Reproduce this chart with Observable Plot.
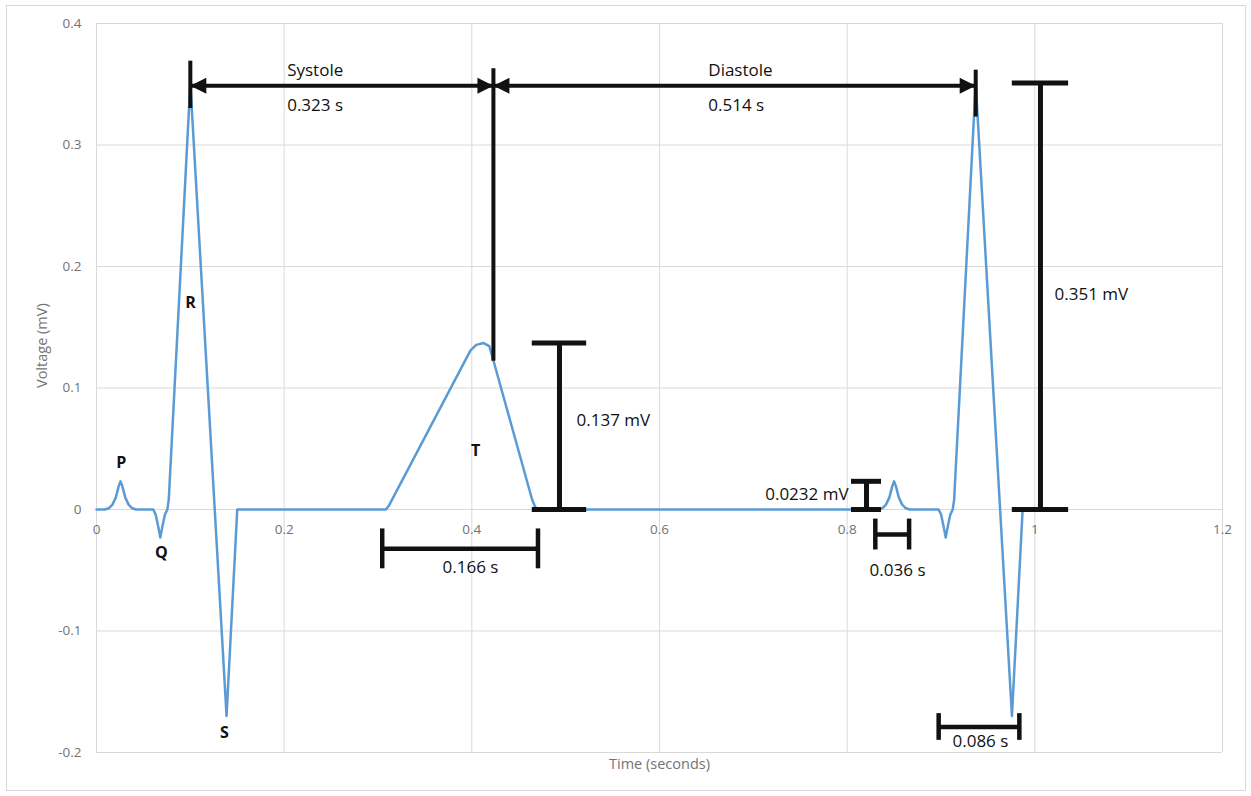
<!DOCTYPE html>
<html>
<head>
<meta charset="utf-8">
<script src="https://cdn.jsdelivr.net/npm/d3@7"></script>
<script src="https://cdn.jsdelivr.net/npm/@observablehq/plot@0.6"></script>
<style>
  body { margin: 0; background: #fff; font-family: "Open Sans", sans-serif; }
  #chart { position: relative; width: 1251px; height: 796px; }
  #chart svg { display: block; }
  #chart .border { position: absolute; left: 6px; top: 5px; width: 1238px; height: 784px;
                   border: 1px solid #d9d9d9; pointer-events: none; }
</style>
</head>
<body>
<div id="chart"><div class="border"></div></div>
<script>
// ECG trace: two heartbeats, time in seconds, voltage in mV
const time = [
  0, 0.009, 0.013, 0.017, 0.0206, 0.0236, 0.0256, 0.0276, 0.0306, 0.0342, 0.0382, 0.0422,
  0.0605, 0.063, 0.0655, 0.068, 0.0705, 0.073, 0.0755, 0.077, 0.100, 0.1386, 0.150,
  0.3085, 0.3115, 0.3986, 0.4046, 0.4126, 0.4186, 0.4236, 0.4643, 0.4675, 0.4705,
  0.8334, 0.8374, 0.8414, 0.845, 0.848, 0.850, 0.852, 0.855, 0.8586, 0.8626, 0.8666,
  0.8975, 0.900, 0.9025, 0.905, 0.9075, 0.910, 0.9125, 0.914, 0.937, 0.9756, 0.987, 0.995
];
const voltage = [
  0, 0, 0.001, 0.004, 0.010, 0.019, 0.0232, 0.019, 0.010, 0.004, 0.001, 0,
  0, -0.004, -0.013, -0.023, -0.013, -0.004, 0, 0.008, 0.351, -0.170, 0,
  0, 0.003, 0.131, 0.1355, 0.137, 0.1345, 0.121, 0.008, 0.002, 0,
  0, 0.001, 0.004, 0.010, 0.019, 0.0232, 0.019, 0.010, 0.004, 0.001, 0,
  0, -0.004, -0.013, -0.023, -0.013, -0.004, 0, 0.008, 0.351, -0.170, 0, 0
];

// Axis ticks
const xTicks = [0, 0.2, 0.4, 0.6, 0.8, 1.0, 1.2];
const xTickLabels = ["0", "0.2", "0.4", "0.6", "0.8", "1", "1.2"];
const yTicks = [0.4, 0.3, 0.2, 0.1, 0, -0.1, -0.2];
const yTickLabels = ["0.4", "0.3", "0.2", "0.1", "0", "-0.1", "-0.2"];

// Wave names
const waves = [
  {name: "P", t: 0.0263, v: 0.0387},
  {name: "Q", t: 0.069, v: -0.036},
  {name: "R", t: 0.1002, v: 0.170},
  {name: "S", t: 0.1364, v: -0.184},
  {name: "T", t: 0.404, v: 0.0485}
];

// Systole / diastole intervals (R peak to end of T, then to next R peak)
const phases = [
  {name: "Systole", label: "0.323 s", start: 0.100, length: 0.323, lx: 0.2032},
  {name: "Diastole", label: "0.514 s", start: 0.423, length: 0.514, lx: 0.652}
];
const phaseArrowV = 0.3487;
// Vertical markers bounding the intervals
const markers = [
  {t: 0.100, v1: 0.330, v2: 0.369},
  {t: 0.423, v1: 0.122, v2: 0.3627},
  {t: 0.937, v1: 0.323, v2: 0.3616}
];

// Amplitude measurements (label placed right of the bar, or left when side is "left")
const amplitudes = [
  {label: "0.137 mV", t: 0.4934, value: 0.137, half: 0.029, lx: 0.5116, ly: 0.0732, side: "right"},
  {label: "0.0232 mV", t: 0.8206, value: 0.0232, half: 0.016, lx: 0.8015, ly: 0.0123, side: "left"},
  {label: "0.351 mV", t: 1.006, value: 0.351, half: 0.030, lx: 1.021, ly: 0.1768, side: "right"}
];

// Duration measurements
const durations = [
  {label: "0.166 s", start: 0.3045, length: 0.166, v: -0.0324, half: 0.0164, lx: 0.3986, ly: -0.0474},
  {label: "0.036 s", start: 0.830, length: 0.036, v: -0.0206, half: 0.0127, lx: 0.8537, ly: -0.0502},
  {label: "0.086 s", start: 0.8975, length: 0.086, v: -0.179, half: 0.011, lx: 0.942, ly: -0.191}
];

const ecg = time.map((t, i) => ({t, v: voltage[i]}));
const xTickRows = xTicks.map((x, i) => ({x, label: xTickLabels[i]}));
const yTickRows = yTicks.map((y, i) => ({y, label: yTickLabels[i]}));

// Filled arrowheads whose tip sits on the anchor point
const headRight = {draw(ctx, size) { const r = Math.sqrt(size / Math.PI);
  ctx.moveTo(0, 0); ctx.lineTo(-2 * r, -r); ctx.lineTo(-2 * r, r); ctx.closePath(); }};
const headLeft = {draw(ctx, size) { const r = Math.sqrt(size / Math.PI);
  ctx.moveTo(0, 0); ctx.lineTo(2 * r, -r); ctx.lineTo(2 * r, r); ctx.closePath(); }};

const grid = "#d9d9d9";
const ink = "#111";
const tickInk = "#737373";

const chart = Plot.plot({
  width: 1251,
  height: 796,
  marginTop: 23,
  marginRight: 29,
  marginBottom: 44,
  marginLeft: 96,
  style: {fontFamily: "'Open Sans', sans-serif", background: "white"},
  x: {domain: [0, 1.2], axis: null},
  y: {domain: [-0.2, 0.4], axis: null},
  marks: [
    // grid and axes
    Plot.ruleY(yTicks, {stroke: grid, strokeWidth: 1}),
    Plot.ruleX(xTicks, {stroke: grid, strokeWidth: 1}),
    Plot.text(yTickRows, {x: () => 0, y: "y", text: "label", textAnchor: "end", dx: -15,
                          fill: tickInk, fontSize: 13.5}),
    Plot.text(xTickRows, {x: "x", y: () => 0, text: "label", dy: 20, fill: tickInk, fontSize: 13.5}),
    Plot.text(["Time (seconds)"], {frameAnchor: "bottom", dy: 16, fill: tickInk, fontSize: 14.5}),
    Plot.text(["Voltage (mV)"], {frameAnchor: "left", dx: -54, rotate: -90, fill: tickInk, fontSize: 14.5}),

    // ECG trace
    Plot.line(ecg, {x: "t", y: "v", stroke: "#5b9bd5", strokeWidth: 2.5, strokeLinejoin: "round"}),

    // wave names
    Plot.text(waves, {x: "t", y: "v", text: "name", fontWeight: "bold", fontSize: 16, fill: ink}),

    // systole / diastole arrows
    Plot.ruleY(phases, {y: () => phaseArrowV, x1: "start", x2: d => d.start + d.length,
                        stroke: ink, strokeWidth: 4}),
    Plot.dot(phases, {x: "start", y: () => phaseArrowV, symbol: headLeft, r: 8, fill: ink, stroke: null}),
    Plot.dot(phases, {x: d => d.start + d.length, y: () => phaseArrowV, symbol: headRight, r: 8,
                      fill: ink, stroke: null}),
    Plot.ruleX(markers, {x: "t", y1: "v1", y2: "v2", stroke: ink, strokeWidth: 4}),
    Plot.text(phases, {x: "lx", y: () => 0.361, text: "name", textAnchor: "start", fontSize: 17, fill: ink}),
    Plot.text(phases, {x: "lx", y: () => 0.3325, text: "label", textAnchor: "start", fontSize: 17, fill: ink}),

    // amplitude I-beams
    Plot.ruleX(amplitudes, {x: "t", y1: () => 0, y2: "value", stroke: ink, strokeWidth: 5}),
    Plot.ruleY(amplitudes, {y: "value", x1: d => d.t - d.half, x2: d => d.t + d.half, stroke: ink, strokeWidth: 5}),
    Plot.ruleY(amplitudes, {y: () => 0, x1: d => d.t - d.half, x2: d => d.t + d.half, stroke: ink, strokeWidth: 5}),
    Plot.text(amplitudes.filter(d => d.side === "right"), {x: "lx", y: "ly", text: "label", textAnchor: "start",
                           fontSize: 17, fill: ink}),
    Plot.text(amplitudes.filter(d => d.side === "left"), {x: "lx", y: "ly", text: "label", textAnchor: "end",
                           fontSize: 17, fill: ink}),

    // duration brackets
    Plot.ruleY(durations, {y: "v", x1: "start", x2: d => d.start + d.length, stroke: ink, strokeWidth: 4.5}),
    Plot.ruleX(durations, {x: "start", y1: d => d.v - d.half, y2: d => d.v + d.half, stroke: ink, strokeWidth: 4.5}),
    Plot.ruleX(durations, {x: d => d.start + d.length, y1: d => d.v - d.half, y2: d => d.v + d.half,
                           stroke: ink, strokeWidth: 4.5}),
    Plot.text(durations, {x: "lx", y: "ly", text: "label", fontSize: 17, fill: ink})
  ]
});

document.getElementById("chart").prepend(chart);
</script>
</body>
</html>
